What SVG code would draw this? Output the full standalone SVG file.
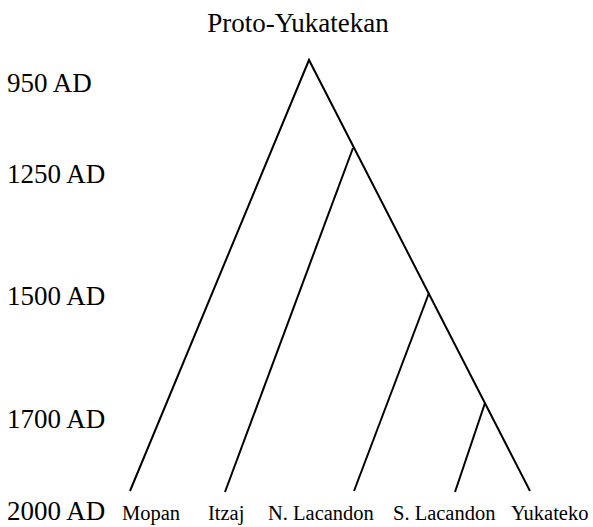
<svg xmlns="http://www.w3.org/2000/svg" width="593" height="527" viewBox="0 0 593 527">
  <style>
    text { font-family: "Liberation Serif", "Times New Roman", serif; fill: #000; }
    .title { font-size: 27px; text-anchor: middle; }
    .year { font-size: 27px; }
    .leaf { font-size: 20.5px; }
    .edge { stroke: #000; stroke-width: 2; fill: none; stroke-linecap: butt; }
  </style>
  <rect width="593" height="527" fill="#fff"/>

  <!-- time scale -->
  <g id="timescale">
    <text class="year" x="7" y="92">950 AD</text>
    <text class="year" x="7" y="183">1250 AD</text>
    <text class="year" x="7" y="305">1500 AD</text>
    <text class="year" x="7" y="428">1700 AD</text>
    <text class="year" x="7" y="520">2000 AD</text>
  </g>

  <!-- tree branches -->
  <g id="connectors">
    <path class="edge" d="M130 491 L309 60 L530 491"/>
    <path class="edge" d="M353 148 L225 492"/>
    <path class="edge" d="M429 293 L354 491"/>
    <path class="edge" d="M485 403 L455 492"/>
  </g>

  <g id="root"><text class="title" x="298" y="32">Proto-Yukatekan</text></g>
  <g id="mopan"><text class="leaf" x="122" y="520">Mopan</text></g>
  <g id="itzaj"><text class="leaf" x="208" y="520">Itzaj</text></g>
  <g id="n-lacandon"><text class="leaf" x="268" y="520">N. Lacandon</text></g>
  <g id="s-lacandon"><text class="leaf" x="393" y="520">S. Lacandon</text></g>
  <g id="yukateko"><text class="leaf" x="511" y="520">Yukateko</text></g>
</svg>
